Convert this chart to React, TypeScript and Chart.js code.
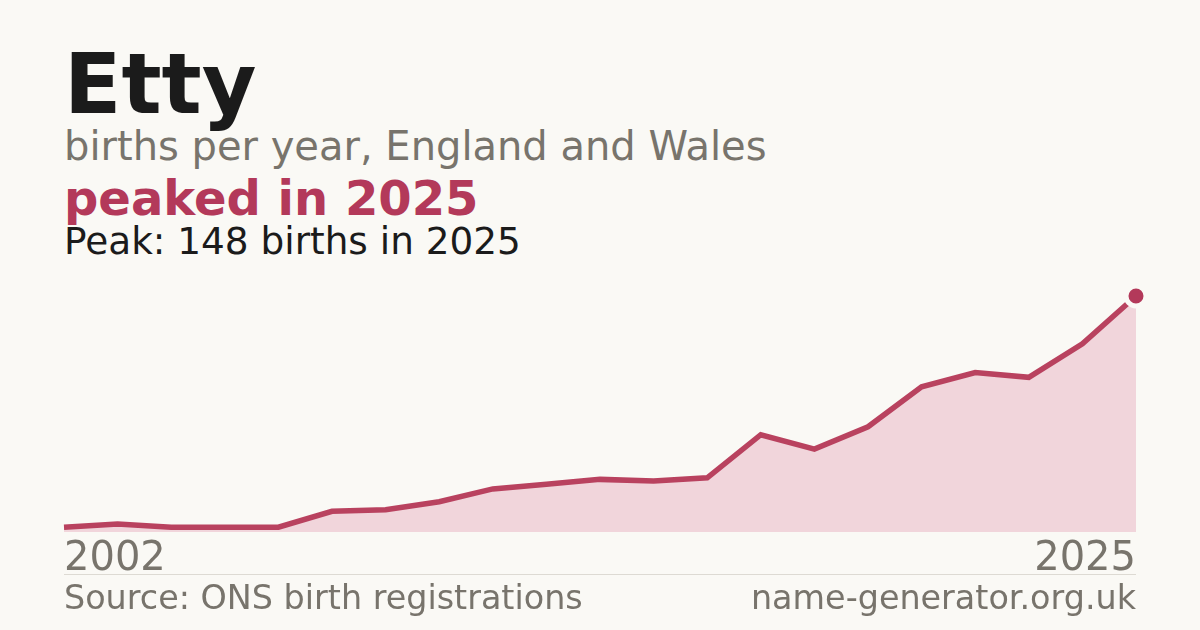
import React, { useEffect, useRef } from 'react';
import { Chart, registerables } from 'chart.js';

Chart.register(...registerables);

// years with published counts (first and last are shown as axis labels)
const years = [
  '2002', '2003', '2005', '2007', '2009', '2010', '2011', '2012', '2013', '2014', '2015',
  '2016', '2017', '2018', '2019', '2020', '2021', '2022', '2023', '2024', '2025',
];
const births = [3, 5, 3, 3, 3, 13, 14, 19, 27, 30, 33, 32, 34, 61, 52, 66, 91, 100, 97, 118, 148];

const BG = '#faf9f5';
const ACCENT = '#b3395a';
const GREY = '#78746c';

function BirthsChart() {
  const canvasRef = useRef<HTMLCanvasElement>(null);
  const chartRef = useRef<Chart | null>(null);

  useEffect(() => {
    if (!canvasRef.current) return;
    const ctx = canvasRef.current.getContext('2d');
    if (!ctx) return;
    const last = births.length - 1;

    chartRef.current = new Chart(ctx, {
      type: 'line',
      data: {
        labels: years,
        datasets: [
          {
            data: births,
            borderColor: '#b9425f',
            borderWidth: 5.5,
            backgroundColor: '#f1d5db',
            fill: 'origin',
            tension: 0,
            clip: false,
            borderJoinStyle: 'miter',
            pointRadius: (c: any) => (c.dataIndex === last ? 10 : 0),
            pointHoverRadius: 0,
            pointBackgroundColor: ACCENT,
            pointBorderColor: BG,
            pointBorderWidth: 5,
          },
        ],
      },
      options: {
        animation: false,
        responsive: true,
        maintainAspectRatio: false,
        layout: { padding: { left: 64, right: 64, top: 26, bottom: 0 } },
        plugins: { legend: { display: false }, tooltip: { enabled: false } },
        scales: {
          x: {
            grid: { display: false, drawTicks: false },
            border: { display: false },
            ticks: {
              autoSkip: false,
              maxRotation: 0,
              align: 'inner',
              padding: 4,
              color: GREY,
              font: { family: 'DejaVu Sans', size: 40 },
              callback: (_v: any, i: number) => (i === 0 || i === last ? years[i] : ''),
            },
          },
          y: { display: false, min: 0, max: 148 },
        },
      },
    });

    return () => {
      chartRef.current?.destroy();
      chartRef.current = null;
    };
  }, []);

  return (
    <div style={{ position: 'absolute', left: 0, top: 270, width: 1200, height: 318 }}>
      <canvas ref={canvasRef}></canvas>
    </div>
  );
}

const text = (top: number, size: number, color: string, bold = false): React.CSSProperties => ({
  position: 'absolute',
  left: 64,
  top,
  fontSize: size,
  lineHeight: 1,
  color,
  fontWeight: bold ? 'bold' : 'normal',
  whiteSpace: 'nowrap',
});

export default function App() {
  useEffect(() => {
    document.body.style.margin = '0';
    document.body.style.background = BG;
  }, []);

  return (
    <div
      style={{
        position: 'relative',
        width: 1200,
        height: 630,
        background: BG,
        fontFamily: 'DejaVu Sans',
        overflow: 'hidden',
      }}
    >
      <div style={text(42, 84, '#1b1b1b', true)}>Etty</div>
      <div style={text(126, 40, GREY)}>births per year, England and Wales</div>
      <div style={text(174, 48, ACCENT, true)}>peaked in 2025</div>
      <div style={text(223, 37.4, '#1b1b1b')}>Peak: 148 births in 2025</div>
      <BirthsChart />
      <div style={{ position: 'absolute', left: 64, top: 574, width: 1072, height: 1, background: '#dddad3' }} />
      <div style={text(581, 33.4, GREY)}>Source: ONS birth registrations</div>
      <div style={{ ...text(581, 33.4, GREY), left: 'auto', right: 64 }}>name-generator.org.uk</div>
    </div>
  );
}
